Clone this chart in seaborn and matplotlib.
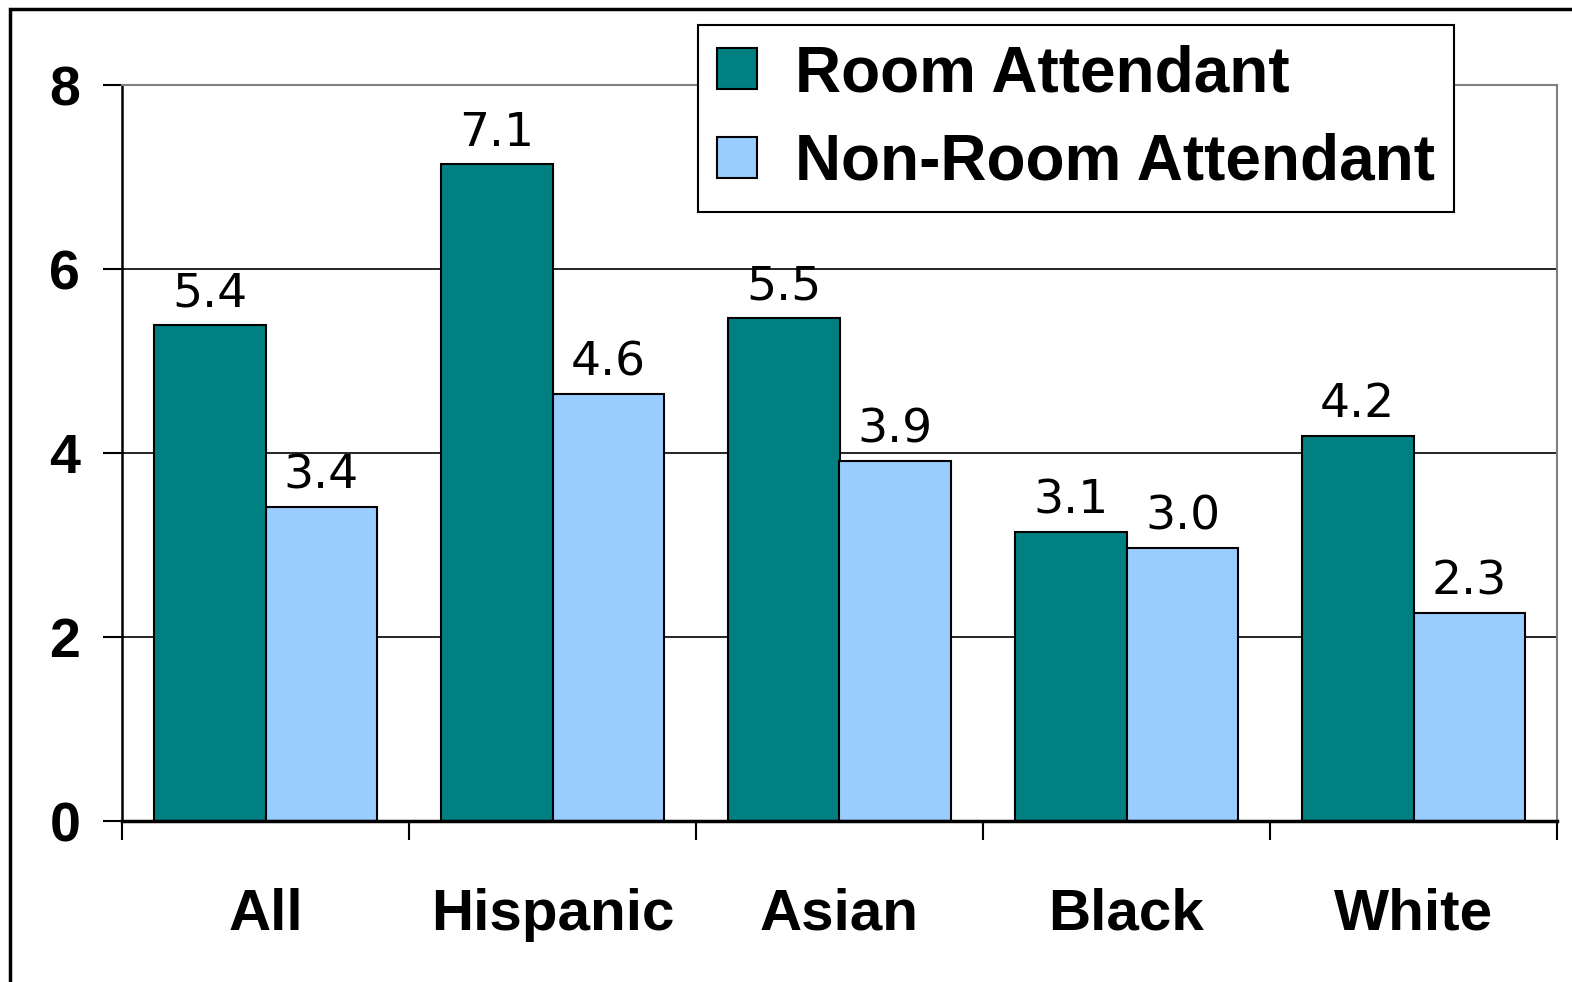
import matplotlib
matplotlib.use("Agg")
import matplotlib.pyplot as plt
from matplotlib.patches import Rectangle
import pandas as pd
import seaborn as sns

groups = ["All", "Hispanic", "Asian", "Black", "White"]
series = ["Room Attendant", "Non-Room Attendant"]
room_attendant = [5.39, 7.14, 5.47, 3.14, 4.19]
non_room_attendant = [3.41, 4.64, 3.91, 2.97, 2.26]
colors = ["#008080", "#99CCFF"]
y_ticks = [0, 2, 4, 6, 8]

df = pd.DataFrame({
    "group": groups * 2,
    "series": [series[0]] * len(groups) + [series[1]] * len(groups),
    "value": room_attendant + non_room_attendant,
})

sns.set_theme(style="white")
plt.rcParams["font.family"] = ["Liberation Sans", "DejaVu Sans"]
plt.rcParams["text.color"] = "black"
plt.rcParams["xtick.color"] = "black"
plt.rcParams["ytick.color"] = "black"

fig = plt.figure(figsize=(15.72, 9.82), dpi=100)
ax = fig.add_axes([122 / 1572, 1 - 821 / 982, 1435 / 1572, 736 / 982])

sns.barplot(data=df, x="group", y="value", hue="series", order=groups,
            hue_order=series, palette=colors, width=0.78, gap=0,
            edgecolor="black", linewidth=1.5, saturation=1, ax=ax,
            errorbar=None, legend=True)

# value labels
for cont in ax.containers:
    ax.bar_label(cont, labels=[f"{b.get_height():.1f}" for b in cont],
                 padding=6, fontsize=34, family="DejaVu Sans", color="black")

ax.set_xlim(-0.5, len(groups) - 0.5)
ax.set_ylim(0, 8)
ax.set_yticks(y_ticks)
ax.set_yticklabels([str(t) for t in y_ticks], fontsize=40, fontweight="bold")
ax.set_xticks([i - 0.5 for i in range(len(groups) + 1)])
ax.set_xticklabels([])
ax.set_xticks(range(len(groups)), minor=True)
ax.set_xticklabels(groups, minor=True, fontsize=42, fontweight="bold")
ax.tick_params(axis="x", which="major", direction="out", length=14, width=1.5,
               color="black", bottom=True)
ax.tick_params(axis="x", which="minor", length=0, pad=48, bottom=True)
ax.tick_params(axis="y", direction="out", length=14, width=1.5, color="black",
               pad=16, left=True)
ax.set_xlabel("")
ax.set_ylabel("")

ax.yaxis.grid(True, color="black", linewidth=1.2)
ax.set_axisbelow(True)
for side in ["top", "right"]:
    ax.spines[side].set_color("#808080")
    ax.spines[side].set_linewidth(1.5)
ax.spines["left"].set_color("black")
ax.spines["left"].set_linewidth(1.8)
ax.spines["bottom"].set_color("black")
ax.spines["bottom"].set_linewidth(2.5)

leg = ax.legend(loc="upper left", bbox_to_anchor=(698 / 1572, 1 - 25 / 982),
                bbox_transform=fig.transFigure, borderaxespad=0,
                prop={"weight": "bold", "size": 46}, frameon=True, fancybox=False,
                handlelength=0.62, handleheight=0.62, handletextpad=0.6,
                labelspacing=0.45, borderpad=0.3)
leg.get_frame().set_edgecolor("black")
leg.get_frame().set_linewidth(1.5)
leg.get_frame().set_alpha(1)
for h in leg.legend_handles:
    h.set_edgecolor("black")
    h.set_linewidth(1.5)

# outer chart border (left and top visible)
fig.patches.append(Rectangle((10 / 1572, -0.2), 2.0, 1.2 - 9 / 982,
                             transform=fig.transFigure, fill=False,
                             edgecolor="black", linewidth=2.5))

fig.savefig("out.png", dpi=100)
